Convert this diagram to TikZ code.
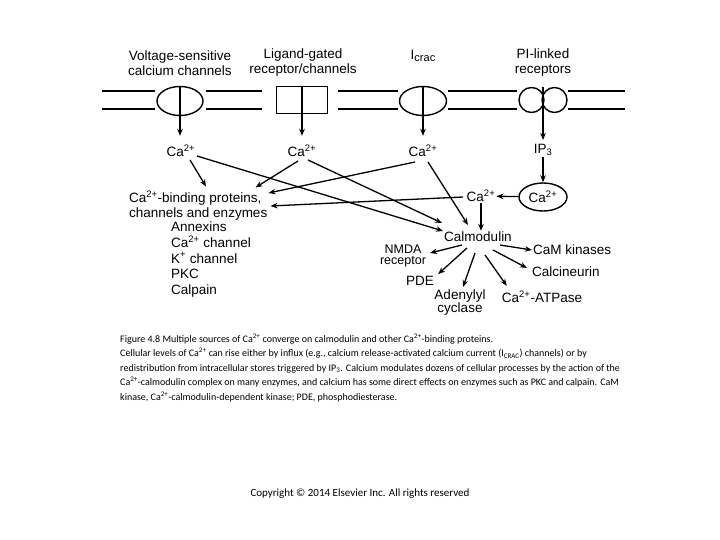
\documentclass[tikz,border=0pt]{standalone}
\usepackage{fontspec}
\setmainfont{Liberation Sans}
\newfontfamily\capfont{Carlito}
\usetikzlibrary{arrows.meta,shapes.geometric,calc}
\newcommand\caii{Ca\textsuperscript{2+}}
\begin{document}
\begin{tikzpicture}[x=1pt,y=-1pt,
  lbl/.style={font=\fontsize{13.5}{15}\selectfont, inner sep=1pt, align=center},
  arr/.style={-{Stealth[length=7pt,width=5.5pt]}, line width=1.3pt},
  mem/.style={line width=2.2pt},
  chan/.style={draw, line width=1.4pt, inner sep=0pt},
  capline/.style={font=\capfont\fontsize{10}{12}\selectfont, anchor=base west, inner sep=0pt}]
\path[use as bounding box] (0,0) rectangle (720,540);
% membrane
\foreach \y in {91,109} {
  \draw[mem] (102,\y) -- (155,\y) (206,\y) -- (262,\y) (338,\y) -- (398,\y) (448,\y) -- (517,\y) (568,\y) -- (625,\y);
}
% channels
\node[chan, ellipse, minimum width=46, minimum height=29] (ch1) at (180,101) {};
\node[chan, rectangle, minimum width=51, minimum height=27] (ch2) at (302,100) {};
\node[chan, ellipse, minimum width=47, minimum height=29] (ch3) at (423,101) {};
\node[chan, circle, minimum size=25] (ch4a) at (531.5,100) {};
\node[chan, circle, minimum size=25] (ch4b) at (554.5,100) {};
\coordinate (ch4) at (543,87.5);
% titles
\node[lbl] (t1) at (180,63) {Voltage-sensitive\\calcium channels};
\node[lbl] (t2) at (303,63) {Ligand-gated\\receptor/channels};
\node[lbl] (t3) at (423,56) {I\raisebox{-0.35ex}{\fontsize{11}{11}\selectfont crac}};
\node[lbl] (t4) at (543,63) {PI-linked\\receptors};
% ions
\node[lbl] (ca1) at (181,151) {\caii};
\node[lbl] (ca2) at (302,151) {\caii};
\node[lbl] (ca3) at (423,151) {\caii};
\node[lbl] (ip3) at (543,150) {IP\textsubscript{3}};
\draw[arr, shorten >=8pt] (ch1.north) -- (ch1.north |- ca1.north);
\draw[arr, shorten >=8pt] (ch2.north) -- (ch2.north |- ca2.north);
\draw[arr, shorten >=8pt] (ch3.north) -- (ch3.north |- ca3.north);
\draw[arr, shorten >=3pt] (ch4) -- (ch4 |- ip3.north);
\node[chan, ellipse, minimum width=48, minimum height=28, lbl] (cacirc) at (543,197) {\caii};
\node[lbl] (ca4) at (481,196) {\caii};
\node[lbl] (cam) at (478,237) {Calmodulin};
\draw[arr] (ip3) -- (cacirc);
\draw[arr] (cacirc) -- (ca4);
\draw[arr] (ca4.south) -- (ca4.south |- cam.north);
% binding proteins
\node[lbl, anchor=west] (bp1) at (128,198) {\caii-binding proteins,};
\node[lbl, anchor=west] (bp2) at (128,214) {channels and enzymes};
\node[lbl, anchor=north west, align=left, font=\fontsize{13.5}{15.6}\selectfont] (bpl) at (170,221) {Annexins\\\caii{} channel\\K\textsuperscript{+} channel\\PKC\\Calpain};
% arrows to binding proteins and calmodulin
\draw[arr] ([shift={(9,9)}]ca1.center) -- ([shift={(78,-3)}]bp1.north west);
\draw[arr] ([shift={(16,5)}]ca1.center) -- ([shift={(-35,-6)}]cam.center);
\draw[arr] ([shift={(-4,10)}]ca2.center) -- ([shift={(-7,-2)}]bp1.north east);
\draw[arr] ([shift={(6,9)}]ca2.center) -- ([shift={(-36,-14)}]cam.center);
\draw[arr] ([shift={(-8,11)}]ca3.center) -- ([shift={(6,-5)}]bp1.east);
\draw[arr] ([shift={(5,11)}]ca3.center) -- ([shift={(-10,-12)}]cam.center);
\draw[arr] ([shift={(-18,1)}]ca4.center) -- ([shift={(8,8)}]bp1.east);
% outputs
\node[lbl, font=\fontsize{12.5}{11.5}\selectfont, inner sep=0pt] (nmda) at (403,256) {NMDA\\receptor};
\node[lbl] (pde) at (420,281) {PDE};
\node[lbl, font=\fontsize{13.5}{13}\selectfont] (aden) at (460,303) {Adenylyl\\cyclase};
\node[lbl] (atp) at (542,297) {\caii-ATPase};
\node[lbl, anchor=west] (calc) at (531,272) {Calcineurin};
\node[lbl, anchor=west] (camk) at (532,250) {CaM kinases};
\draw[arr] ([shift={(-16,8)}]cam.center) -- ([shift={(4,-3)}]nmda.east);
\draw[arr] ([shift={(-11,11)}]cam.center) -- ([shift={(3,-1)}]pde.north east);
\draw[arr] ([shift={(-3,16)}]cam.center) -- ([shift={(3,-2)}]aden.north);
\draw[arr] ([shift={(7,18)}]cam.center) -- ([shift={(6,-4)}]atp.north west);
\draw[arr] ([shift={(15,13)}]cam.center) -- ([shift={(-4,-4)}]calc.west);
\draw[arr] ([shift={(22,8)}]cam.center) -- (camk.west);
% caption
\node[capline] (cap1) at (120,342) {Figure 4.8 Multiple sources of Ca\textsuperscript{2+} converge on calmodulin and other Ca\textsuperscript{2+}-binding proteins.};
\node[capline] (cap2) at (120,356.5) {Cellular levels of Ca\textsuperscript{2+} can rise either by influx (e.g., calcium release-activated calcium current (I\textsubscript{CRAC}) channels) or by};
\node[capline] (cap3) at (120,371) {redistribution from intracellular stores triggered by IP\textsubscript{3}. Calcium modulates dozens of cellular processes by the action of the};
\node[capline] (cap4) at (120,385.5) {Ca\textsuperscript{2+}-calmodulin complex on many enzymes, and calcium has some direct effects on enzymes such as PKC and calpain. CaM};
\node[capline] (cap5) at (120,400) {kinase, Ca\textsuperscript{2+}-calmodulin-dependent kinase; PDE, phosphodiesterase.};
\node[font=\capfont\fontsize{11}{13}\selectfont, inner sep=0pt] (copy) at (360,494) {Copyright © 2014 Elsevier Inc. All rights reserved};
\end{tikzpicture}
\end{document}
